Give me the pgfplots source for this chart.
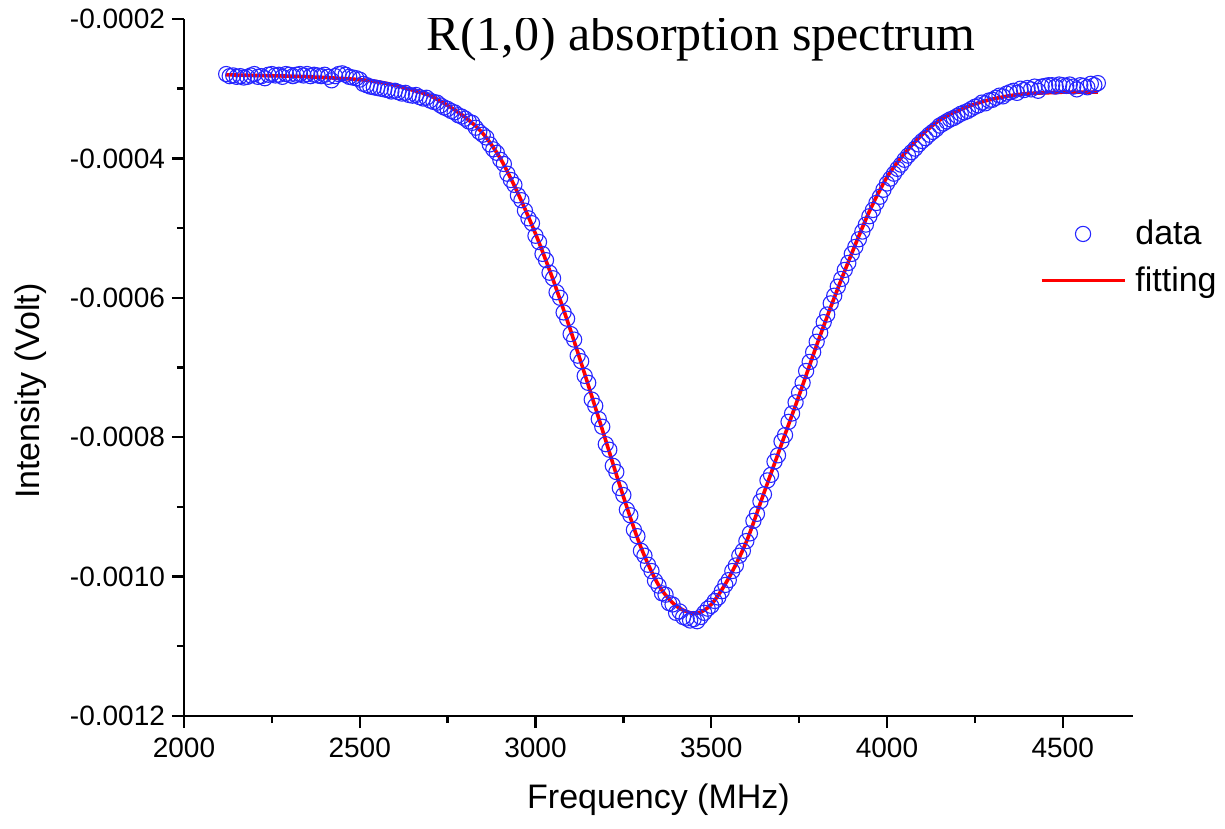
\documentclass[border=0pt]{standalone}
\usepackage{fontspec}
\setmainfont{Liberation Sans}
\newfontfamily\timesfont{Liberation Serif}
\usepackage{pgfplots}
\pgfplotsset{compat=1.18}
\pgfplotsset{
  legdata/.style={legend image code/.code={\draw[mark repeat=2,mark phase=2,##1] plot coordinates {(0pt,0pt) (20.75pt,0pt) (41.5pt,0pt)};\path (44pt,0pt);}},
  legline/.style={legend image code/.code={\draw[##1] (0pt,0pt) -- (41.5pt,0pt);\path (44pt,0pt);}},
}
\begin{document}
\begin{tikzpicture}
\useasboundingbox (-92pt,-56.5pt) rectangle (520.5pt,358pt);
\begin{axis}[
  at={(0,0)}, anchor=south west,
  scale only axis, width=474.5pt, height=348.5pt,
  xmin=2000, xmax=4700, ymin=-0.0012, ymax=-0.0002,
  enlargelimits=false,
  axis lines=left, axis line style={-, line width=1.2pt},
  xtick={2000,2500,3000,3500,4000,4500},
  xticklabels={2000,2500,3000,3500,4000,4500},
  ytick={-0.0012,-0.0010,-0.0008,-0.0006,-0.0004,-0.0002},
  yticklabels={-0.0012,-0.0010,-0.0008,-0.0006,-0.0004,-0.0002},
  scaled y ticks=false, scaled x ticks=false,
  minor x tick num=1, minor y tick num=1,
  tick align=outside, major tick length=6pt, minor tick length=3.5pt,
  every tick/.style={line width=1.2pt, black},
  ticklabel style={font=\fontsize{14pt}{16pt}\selectfont},
  xticklabel style={yshift=-1.5pt},
  xlabel={Frequency (MHz)}, ylabel={Intensity (Volt)},
  label style={font=\fontsize{17pt}{20pt}\selectfont},
  xlabel style={at={(axis description cs:0.5,0)}, anchor=center, yshift=-42pt},
  ylabel style={at={(axis description cs:0,0.466)}, anchor=center, yshift=76.75pt},
  legend style={draw=none, fill=none, at={(rel axis cs:0.895,0.7235)}, anchor=north west,
    font=\fontsize{17pt}{20pt}\selectfont, row sep=5.5pt},
  legend cell align=left,
]
\addplot[only marks, mark=o, mark size=3.8pt, mark options={line width=0.55pt, draw=blue!85!white}, legdata]
coordinates {
(2120,-2.79e-4) (2130,-2.82e-4) (2140,-2.81e-4) (2150,-2.83e-4) (2160,-2.82e-4)
(2170,-2.84e-4) (2180,-2.83e-4) (2190,-2.81e-4) (2200,-2.79e-4) (2210,-2.83e-4)
(2220,-2.82e-4) (2230,-2.85e-4) (2240,-2.80e-4) (2250,-2.79e-4) (2260,-2.81e-4)
(2270,-2.80e-4) (2280,-2.83e-4) (2290,-2.79e-4) (2300,-2.80e-4) (2310,-2.82e-4)
(2320,-2.80e-4) (2330,-2.79e-4) (2340,-2.81e-4) (2350,-2.79e-4) (2360,-2.82e-4)
(2370,-2.80e-4) (2380,-2.81e-4) (2390,-2.82e-4) (2400,-2.80e-4) (2410,-2.83e-4)
(2420,-2.88e-4) (2430,-2.82e-4) (2440,-2.79e-4) (2450,-2.78e-4) (2460,-2.80e-4)
(2470,-2.83e-4) (2480,-2.84e-4) (2490,-2.85e-4) (2500,-2.87e-4) (2510,-2.93e-4)
(2520,-2.95e-4) (2530,-2.97e-4) (2540,-2.98e-4) (2550,-2.99e-4) (2560,-3.00e-4)
(2570,-3.01e-4) (2580,-3.02e-4) (2590,-3.04e-4) (2600,-3.03e-4) (2610,-3.05e-4)
(2620,-3.07e-4) (2630,-3.06e-4) (2640,-3.09e-4) (2650,-3.10e-4) (2660,-3.09e-4)
(2670,-3.12e-4) (2680,-3.14e-4) (2690,-3.13e-4) (2700,-3.17e-4) (2710,-3.19e-4)
(2720,-3.20e-4) (2730,-3.24e-4) (2740,-3.27e-4) (2750,-3.29e-4) (2760,-3.32e-4)
(2770,-3.34e-4) (2780,-3.38e-4) (2790,-3.40e-4) (2800,-3.43e-4) (2810,-3.47e-4)
(2820,-3.49e-4) (2830,-3.56e-4) (2840,-3.62e-4) (2850,-3.66e-4) (2860,-3.70e-4)
(2870,-3.80e-4) (2880,-3.87e-4) (2890,-3.92e-4) (2900,-4.02e-4) (2910,-4.08e-4)
(2920,-4.22e-4) (2930,-4.31e-4) (2940,-4.38e-4) (2950,-4.53e-4) (2960,-4.60e-4)
(2970,-4.75e-4) (2980,-4.86e-4) (2990,-4.93e-4) (3000,-5.11e-4) (3010,-5.20e-4)
(3020,-5.37e-4) (3030,-5.46e-4) (3040,-5.64e-4) (3050,-5.72e-4) (3060,-5.92e-4)
(3070,-6.00e-4) (3080,-6.21e-4) (3090,-6.30e-4) (3100,-6.52e-4) (3110,-6.60e-4)
(3120,-6.83e-4) (3130,-6.91e-4) (3140,-7.12e-4) (3150,-7.22e-4) (3160,-7.46e-4)
(3170,-7.55e-4) (3180,-7.74e-4) (3190,-7.85e-4) (3200,-8.10e-4) (3210,-8.18e-4)
(3220,-8.41e-4) (3230,-8.50e-4) (3240,-8.73e-4) (3250,-8.83e-4) (3260,-9.04e-4)
(3270,-9.12e-4) (3280,-9.33e-4) (3290,-9.42e-4) (3300,-9.63e-4) (3310,-9.70e-4)
(3320,-9.83e-4) (3330,-9.92e-4) (3340,-10.06e-4) (3350,-10.13e-4) (3360,-10.24e-4)
(3370,-10.26e-4) (3380,-10.38e-4) (3390,-10.40e-4) (3400,-10.52e-4) (3410,-10.50e-4)
(3420,-10.58e-4) (3430,-10.60e-4) (3440,-10.63e-4) (3450,-10.61e-4) (3460,-10.64e-4)
(3470,-10.58e-4) (3480,-10.52e-4) (3490,-10.46e-4) (3500,-10.42e-4) (3510,-10.35e-4)
(3520,-10.30e-4) (3530,-10.21e-4) (3540,-10.12e-4) (3550,-10.05e-4) (3560,-9.92e-4)
(3570,-9.84e-4) (3580,-9.70e-4) (3590,-9.63e-4) (3600,-9.49e-4) (3610,-9.38e-4)
(3620,-9.20e-4) (3630,-9.10e-4) (3640,-8.92e-4) (3650,-8.82e-4) (3660,-8.62e-4)
(3670,-8.54e-4) (3680,-8.35e-4) (3690,-8.26e-4) (3700,-8.06e-4) (3710,-7.97e-4)
(3720,-7.78e-4) (3730,-7.66e-4) (3740,-7.50e-4) (3750,-7.36e-4) (3760,-7.22e-4)
(3770,-7.05e-4) (3780,-6.92e-4) (3790,-6.78e-4) (3800,-6.63e-4) (3810,-6.50e-4)
(3820,-6.35e-4) (3830,-6.24e-4) (3840,-6.08e-4) (3850,-5.97e-4) (3860,-5.84e-4)
(3870,-5.73e-4) (3880,-5.60e-4) (3890,-5.50e-4) (3900,-5.37e-4) (3910,-5.27e-4)
(3920,-5.16e-4) (3930,-5.05e-4) (3940,-4.95e-4) (3950,-4.83e-4) (3960,-4.74e-4)
(3970,-4.64e-4) (3980,-4.55e-4) (3990,-4.45e-4) (4000,-4.36e-4) (4010,-4.29e-4)
(4020,-4.22e-4) (4030,-4.15e-4) (4040,-4.09e-4) (4050,-4.02e-4) (4060,-3.96e-4)
(4070,-3.91e-4) (4080,-3.86e-4) (4090,-3.80e-4) (4100,-3.75e-4) (4110,-3.71e-4)
(4120,-3.66e-4) (4130,-3.62e-4) (4140,-3.58e-4) (4150,-3.53e-4) (4160,-3.50e-4)
(4170,-3.47e-4) (4180,-3.44e-4) (4190,-3.42e-4) (4200,-3.39e-4) (4210,-3.36e-4)
(4220,-3.34e-4) (4230,-3.32e-4) (4240,-3.29e-4) (4250,-3.26e-4) (4260,-3.24e-4)
(4270,-3.20e-4) (4280,-3.21e-4) (4290,-3.17e-4) (4300,-3.16e-4) (4310,-3.13e-4)
(4320,-3.10e-4) (4330,-3.11e-4) (4340,-3.07e-4) (4350,-3.05e-4) (4360,-3.03e-4)
(4370,-3.06e-4) (4380,-3.00e-4) (4390,-3.02e-4) (4400,-2.99e-4) (4410,-3.01e-4)
(4420,-2.97e-4) (4430,-3.03e-4) (4440,-2.97e-4) (4450,-2.96e-4) (4460,-2.95e-4)
(4470,-2.95e-4) (4480,-2.97e-4) (4490,-2.94e-4) (4500,-2.95e-4) (4510,-2.96e-4)
(4520,-2.94e-4) (4530,-2.97e-4) (4540,-3.01e-4) (4550,-2.95e-4) (4560,-2.96e-4)
(4570,-2.98e-4) (4580,-2.93e-4) (4590,-2.95e-4) (4600,-2.92e-4)
};
\addlegendentry{data}
\addplot[red, line width=1.8pt, smooth, no marks, legline]
coordinates {
(2120,-2.80e-4) (2200,-2.81e-4) (2300,-2.82e-4) (2400,-2.84e-4) (2500,-2.87e-4)
(2550,-2.90e-4) (2600,-2.95e-4) (2650,-3.02e-4) (2700,-3.10e-4) (2750,-3.24e-4)
(2800,-3.41e-4) (2850,-3.64e-4) (2900,-4.00e-4) (2950,-4.50e-4) (3000,-5.08e-4)
(3050,-5.74e-4) (3100,-6.47e-4) (3150,-7.25e-4) (3200,-8.05e-4) (3250,-8.85e-4)
(3300,-9.58e-4) (3350,-10.12e-4) (3400,-10.42e-4) (3455,-10.53e-4) (3500,-10.40e-4)
(3550,-10.02e-4) (3600,-9.50e-4) (3650,-8.80e-4) (3700,-8.10e-4) (3750,-7.40e-4)
(3800,-6.68e-4) (3850,-6.00e-4) (3900,-5.36e-4) (3950,-4.76e-4) (4000,-4.27e-4)
(4050,-3.93e-4) (4100,-3.66e-4) (4150,-3.45e-4) (4200,-3.32e-4) (4250,-3.22e-4)
(4300,-3.15e-4) (4350,-3.10e-4) (4400,-3.07e-4) (4450,-3.06e-4) (4500,-3.05e-4)
(4550,-3.05e-4) (4600,-3.05e-4)
};
\addlegendentry{fitting}
\node[font=\timesfont\fontsize{25pt}{30pt}\selectfont] at (rel axis cs:0.545,0.972) {R(1,0) absorption spectrum};
\end{axis}
\end{tikzpicture}
\end{document}
